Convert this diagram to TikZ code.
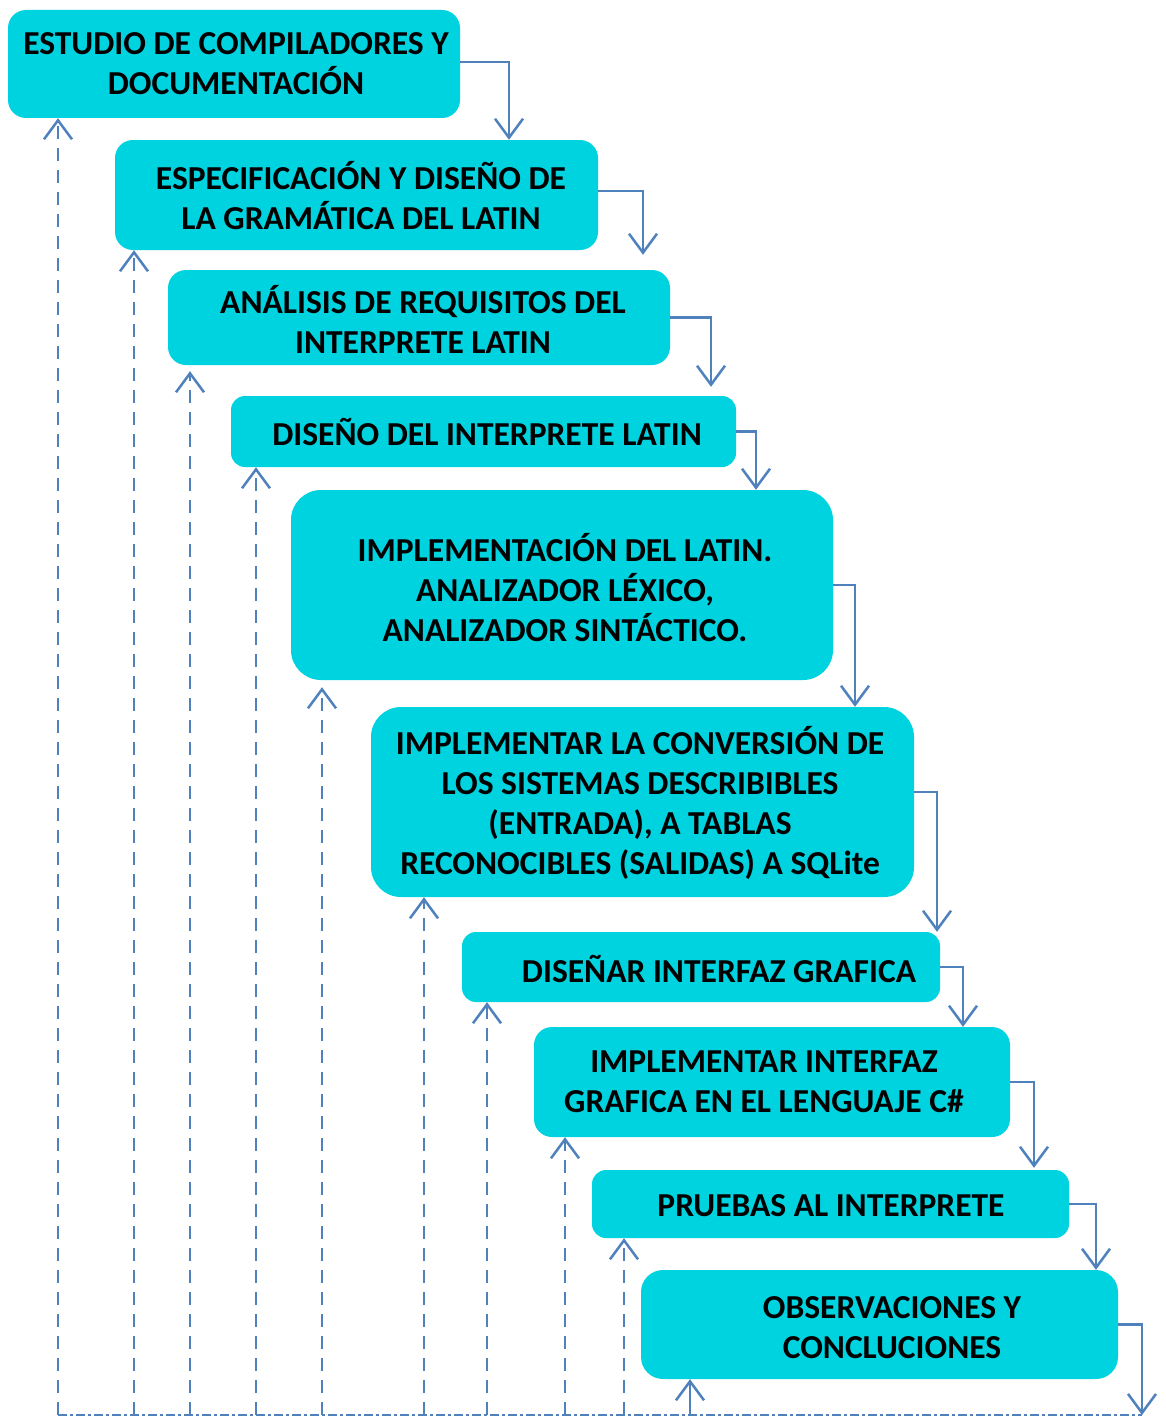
\documentclass[tikz,border=0pt]{standalone}
\usepackage{fontspec}
\setmainfont{Carlito}
\usetikzlibrary{arrows.meta}
\definecolor{boxcyan}{RGB}{0,211,224}
\definecolor{linkblue}{RGB}{79,129,189}
\begin{document}
\begin{tikzpicture}[x=1pt,y=-1pt,
  stage/.style={draw=none,fill=boxcyan,rounded corners=18pt,inner sep=0pt},
  label/.style={inner sep=0pt,align=center,font=\fontsize{33.5}{40}\selectfont\bfseries},
  flow/.style={draw=linkblue,line width=2.5pt,-{Straight Barb[length=19pt,width=28pt,line width=2.5pt]}},
  back/.style={flow,dash pattern=on 13pt off 9pt},
  base/.style={draw=linkblue,line width=2.5pt,dash pattern=on 9pt off 3pt on 3pt off 3pt}]
\useasboundingbox (0,0) rectangle (1165,1418);

% stage boxes
\node[stage,minimum width=452pt,minimum height=108pt] (b1) at (234,64) {};
\node[stage,minimum width=483pt,minimum height=110pt] (b2) at (356.5,195) {};
\node[stage,minimum width=502pt,minimum height=95pt] (b3) at (419,317.5) {};
\node[stage,minimum width=505pt,minimum height=71pt,rounded corners=14pt] (b4) at (483.5,431.5) {};
\node[stage,minimum width=542pt,minimum height=190pt,rounded corners=30pt] (b5) at (562,585) {};
\node[stage,minimum width=543pt,minimum height=190pt,rounded corners=30pt] (b6) at (642.5,802) {};
\node[stage,minimum width=478pt,minimum height=70pt,rounded corners=14pt] (b7) at (701,967) {};
\node[stage,minimum width=476pt,minimum height=110pt] (b8) at (772,1082) {};
\node[stage,minimum width=477pt,minimum height=68pt,rounded corners=14pt] (b9) at (830.5,1204) {};
\node[stage,minimum width=477pt,minimum height=109pt,rounded corners=22pt] (b10) at (879.5,1324.5) {};

% stage texts
\node[label] (t1) at (236,64) {ESTUDIO DE COMPILADORES Y\\DOCUMENTACIÓN};
\node[label] (t2) at (361,196) {ESPECIFICACIÓN Y DISEÑO DE\\LA GRAMÁTICA DEL LATIN};
\node[label] (t3) at (423,319) {ANÁLISIS DE REQUISITOS DEL\\INTERPRETE LATIN};
\node[label] (t4) at (487,432) {DISEÑO DEL INTERPRETE LATIN};
\node[label] (t5) at (565,588) {IMPLEMENTACIÓN DEL LATIN.\\ANALIZADOR LÉXICO,\\ANALIZADOR SINTÁCTICO.};
\node[label] (t6) at (640,803) {IMPLEMENTAR LA CONVERSIÓN DE\\LOS SISTEMAS DESCRIBIBLES\\(ENTRADA), A TABLAS\\RECONOCIBLES (SALIDAS) A SQLite};
\node[label] (t7) at (719,969) {DISEÑAR INTERFAZ GRAFICA};
\node[label] (t8) at (764,1082) {IMPLEMENTAR INTERFAZ\\GRAFICA EN EL LENGUAJE C\#};
\node[label] (t9) at (831,1206) {PRUEBAS AL INTERPRETE};
\node[label] (t10) at (892,1328) {OBSERVACIONES Y\\CONCLUCIONES};

% feedback base line
\coordinate (f1) at (58,1415);
\coordinate (f2) at (134,1415);
\coordinate (f3) at (190,1415);
\coordinate (f4) at (256,1415);
\coordinate (f5) at (322,1415);
\coordinate (f6) at (424,1415);
\coordinate (f7) at (487,1415);
\coordinate (f8) at (565,1415);
\coordinate (f9) at (624,1415);
\coordinate (f10) at (690,1415);
\coordinate (end) at (1142,1415);
\draw[base] (f1) -- (end);

% forward links
\draw[flow] ([yshift=2pt]b1.east) -| (b2.north -| 509,0);
\draw[flow,shorten >=15pt] ([yshift=4pt]b2.east) -| (b3.north -| 643,0);
\draw[flow,shorten >=9pt] (b3.east) -| (b4.north -| 711,0);
\draw[flow] (b4.east) -| (b5.north -| 756,0);
\draw[flow] (b5.east) -| (b6.north -| 855,0);
\draw[flow] ([yshift=10pt]b6.east) -| (b7.north -| 937,0);
\draw[flow] (b7.east) -| (b8.north -| 963,0);
\draw[flow,shorten >=2pt] (b8.east) -| (b9.north -| 1034,0);
\draw[flow] (b9.east) -| (b10.north -| 1096,0);
\draw[flow] (b10.east) -| (end);

% feedback links
\draw[back] (f1) -- (b1.south -| f1);
\draw[back] (f2) -- (b2.south -| f2);
\draw[back,shorten >=6pt] (f3) -- (b3.south -| f3);
\draw[back] (f4) -- (b4.south -| f4);
\draw[back,shorten >=7pt] (f5) -- (b5.south -| f5);
\draw[back] (f6) -- (b6.south -| f6);
\draw[back] (f7) -- (b7.south -| f7);
\draw[back] (f8) -- (b8.south -| f8);
\draw[back] (f9) -- (b9.south -| f9);
\draw[flow] (f10) -- (b10.south -| f10);
\end{tikzpicture}
\end{document}
